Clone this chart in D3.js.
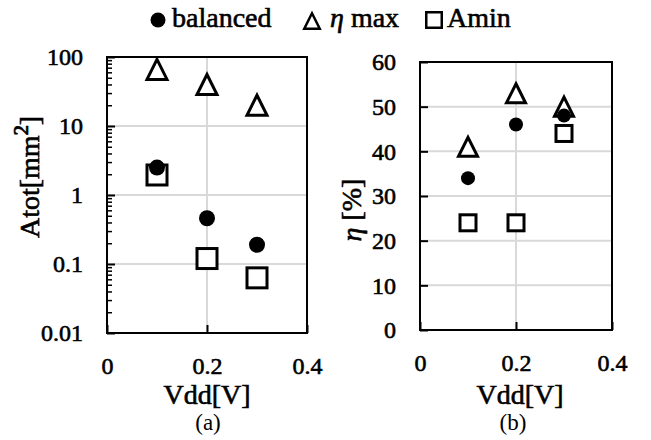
<!DOCTYPE html>
<html><head><meta charset="utf-8">
<script src="https://cdn.jsdelivr.net/npm/d3@7"></script>
<style>
body{margin:0;background:#fff;}
svg text{font-family:"Liberation Serif","Times New Roman",serif !important;fill:#000;}
.heavy{stroke:#000;stroke-width:0.6px;}
</style></head>
<body><svg id="c" width="651" height="440"></svg>
<script>
const vdd = [0.1, 0.2, 0.3];
const atotBalanced = [2.5, 0.46, 0.19];
const atotEtaMax = [66, 40, 20];
const atotAmin = [1.95, 0.12, 0.063];
const etaBalanced = [34, 46, 48];
const etaEtaMax = [41, 53, 50];
const etaAmin = [24, 24, 44];
const xTicks = [0, 0.2, 0.4];
const xTickLabels = ["0", "0.2", "0.4"];
const logTicks = [100, 10, 1, 0.1, 0.01];
const logTickLabels = ["100", "10", "1", "0.1", "0.01"];
const etaTicks = [0, 10, 20, 30, 40, 50, 60];
const etaTickLabels = ["0", "10", "20", "30", "40", "50", "60"];
const legendItems = ["balanced", "η max", "Amin"];

const FONT = '"Liberation Serif", "Times New Roman", serif';
const svg = d3.select("#c");
const grid = "#d9d9d9";

function marker(g, type, cx, cy, size, sw) {
  if (type === "circle") {
    g.append("circle").attr("cx", cx).attr("cy", cy).attr("r", size / 2).attr("fill", "#000");
  } else if (type === "tri") {
    const h = size, w = size;
    g.append("path").attr("d", `M${cx},${cy - h / 2 + sw/2}L${cx + w / 2 - sw/2},${cy + h / 2 - sw/2}L${cx - w / 2 + sw/2},${cy + h / 2 - sw/2}Z`)
      .attr("fill", "#fff").attr("stroke", "#000").attr("stroke-width", sw).attr("stroke-linejoin", "miter");
  } else {
    g.append("rect").attr("x", cx - size / 2 + sw/2).attr("y", cy - size / 2 + sw/2)
      .attr("width", size - sw).attr("height", size - sw)
      .attr("fill", "#fff").attr("stroke", "#000").attr("stroke-width", sw);
  }
}

function panel(opt) {
  const g = svg.append("g");
  const x = d3.scaleLinear().domain([0, 0.4]).range([opt.x0, opt.x1]);
  const y = opt.y;
  g.selectAll(".hg").data(opt.gridY).enter().append("line")
    .attr("x1", opt.x0).attr("x2", opt.x1).attr("y1", d => y(d)).attr("y2", d => y(d))
    .attr("stroke", grid).attr("stroke-width", 2);
  g.append("line").attr("x1", x(0.2)).attr("x2", x(0.2)).attr("y1", y.range()[0]).attr("y2", y.range()[1])
    .attr("stroke", grid).attr("stroke-width", 2);
  const mg = g.append("g");
  vdd.forEach((v, i) => marker(mg, "tri", x(v), y(opt.tri[i]), opt.triSize, 3));
  vdd.forEach((v, i) => marker(mg, "sq", x(v), y(opt.sq[i]), opt.sqSize, 3));
  vdd.forEach((v, i) => marker(mg, "circle", x(v), y(opt.circ[i]), opt.circSize, 0));
  const yTop = Math.min(...y.range()), yBot = Math.max(...y.range());
  if (opt.minor) {
    const ya2 = d3.axisLeft(y).tickValues(opt.minor).tickSize(-5).tickSizeOuter(0).tickFormat("");
    const gm = g.append("g").attr("transform", `translate(${opt.x0},0)`).call(ya2);
    gm.select(".domain").remove();
    gm.selectAll("line").attr("stroke", "#000").attr("stroke-width", 1.5);
  }
  const ya = d3.axisLeft(y).tickValues(opt.yTicks).tickSize(-8).tickSizeOuter(0).tickPadding(24)
    .tickFormat((d, i) => opt.yLabels[i]);
  const gy = g.append("g").attr("transform", `translate(${opt.x0},0)`).call(ya).attr("font-family", FONT);
  gy.select(".domain").remove();
  gy.selectAll("line").attr("stroke", "#000").attr("stroke-width", 2);
  gy.selectAll("text").attr("class", "heavy").style("font-size", "24px").style("font-family", FONT);
  const xa = d3.axisBottom(x).tickValues(xTicks).tickSize(-8).tickSizeOuter(0).tickPadding(24)
    .tickFormat((d, i) => xTickLabels[i]);
  const gx = g.append("g").attr("transform", `translate(0,${yBot})`).call(xa).attr("font-family", FONT);
  gx.select(".domain").remove();
  gx.selectAll("line").attr("stroke", "#000").attr("stroke-width", 2);
  gx.selectAll("text").attr("class", "heavy").style("font-size", "24px").style("font-family", FONT);
  g.append("rect").attr("x", opt.x0).attr("y", yTop).attr("width", opt.x1 - opt.x0).attr("height", yBot - yTop)
    .attr("fill", "none").attr("stroke", "#000").attr("stroke-width", 2);
  g.append("text").attr("class", "heavy").attr("x", opt.xTitleX).attr("y", 404).attr("text-anchor", "middle")
    .style("font-size", "28px").style("font-family", FONT).text("Vdd[V]");
  g.append("text").attr("x", opt.subX).attr("y", 430).attr("text-anchor", "middle")
    .style("font-size", "23px").style("font-family", FONT).text(opt.sub);
  const yt = g.append("text").attr("class", "heavy")
    .attr("transform", `translate(${opt.yTitleX},${opt.yTitleY}) rotate(-90)`)
    .attr("text-anchor", "middle").style("font-size", "28px").style("font-family", FONT);
  opt.yTitle(yt);
}

const yLog = d3.scaleLog().domain([0.01, 100]).range([333, 57]);
const minorLog = [];
[0.01, 0.1, 1, 10].forEach(b => { for (let k = 2; k <= 9; k++) minorLog.push(b * k); });
panel({
  x0: 107, x1: 307, y: yLog, gridY: [0.1, 1, 10], yTicks: logTicks, yLabels: logTickLabels, minor: minorLog,
  tri: atotEtaMax, sq: atotAmin, circ: atotBalanced, triSize: 23, sqSize: 23, circSize: 16,
  xTitleX: 207, subX: 208, sub: "(a)", yTitleX: 39, yTitleY: 177,
  yTitle: t => { t.append("tspan").text("Atot[mm"); t.append("tspan").style("font-size","34px").attr("dy", -2).text("²"); t.append("tspan").attr("dy", 2).text("]"); }
});
const yEta = d3.scaleLinear().domain([0, 60]).range([330, 62]);
panel({
  x0: 420, x1: 612, y: yEta, gridY: [10, 20, 30, 40, 50], yTicks: etaTicks, yLabels: etaTickLabels, minor: null,
  tri: etaEtaMax, sq: etaAmin, circ: etaBalanced, triSize: 22, sqSize: 19, circSize: 14,
  xTitleX: 520, subX: 513, sub: "(b)", yTitleX: 361, yTitleY: 210,
  yTitle: t => { t.append("tspan").style("font-style", "italic").text("η"); t.append("tspan").text(" [%]"); }
});

const lg = svg.append("g");
const lx = [158, 312, 434];
const tx = [172, 330, 447];
marker(lg, "circle", lx[0], 20, 15, 0);
marker(lg, "tri", lx[1], 21, 18, 2.5);
marker(lg, "sq", lx[2], 20, 18, 2.5);
legendItems.forEach((s, i) => {
  const t = lg.append("text").attr("class", "heavy").attr("x", tx[i]).attr("y", 27)
    .style("font-size", "28px").style("font-family", FONT);
  if (i === 1) { t.append("tspan").style("font-style", "italic").text("η"); t.append("tspan").text(" max"); }
  else t.text(s);
});
</script></body></html>
